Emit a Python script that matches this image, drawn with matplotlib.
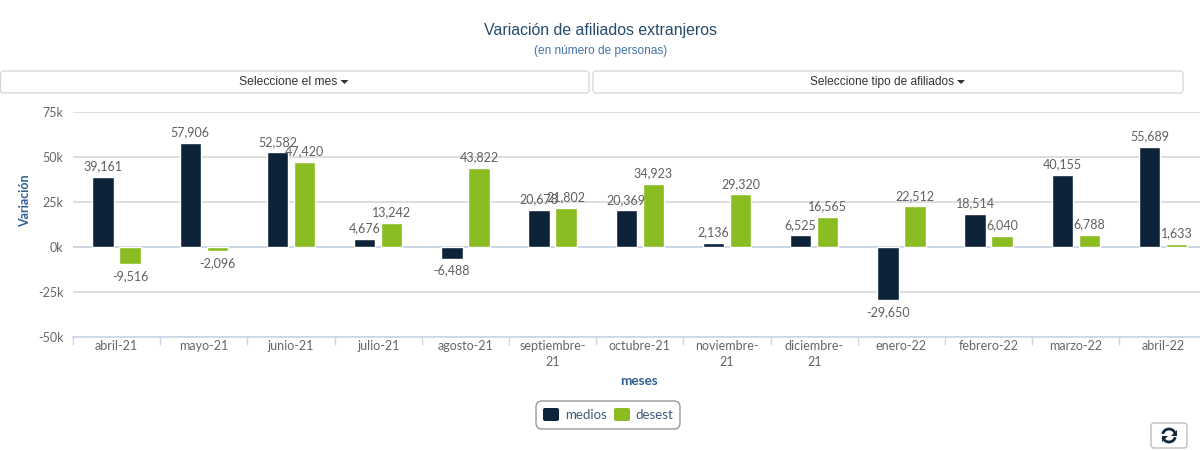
import numpy as np
import matplotlib
matplotlib.use("Agg")
import matplotlib.pyplot as plt
from matplotlib.patches import FancyBboxPatch, Polygon, Arc
from matplotlib.transforms import Affine2D

categories = ["abril-21", "mayo-21", "junio-21", "julio-21", "agosto-21", "septiembre-\n21",
              "octubre-21", "noviembre-\n21", "diciembre-\n21", "enero-22", "febrero-22",
              "marzo-22", "abril-22"]
medios = [39161, 57906, 52582, 4676, -6488, 20678, 20369, 2136, 6525, -29650, 18514, 40155, 55689]
desest = [-9516, -2096, 47420, 13242, 43822, 21802, 34923, 29320, 16565, 22512, 6040, 6788, 1633]
yticks = [-50000, -25000, 0, 25000, 50000, 75000]
ylabels = ["-50k", "-25k", "0k", "25k", "50k", "75k"]

W, H = 1200, 450
NAVY = "#0d233a"
GREEN = "#8bbc21"
LAB = "#666666"
fig = plt.figure(figsize=(12, 4.5), dpi=100, facecolor="white")
ax = fig.add_axes([73 / W, 1 - 337 / H, (W - 73) / W, 225 / H])
step = 87.2
ax.set_xlim(-0.5, -0.5 + (W - 73) / step)
ax.set_ylim(-50000, 75000)
x = np.arange(len(categories))
off, bw = 13.5 / step, 21.5 / step
ax.set_axisbelow(True)
ax.grid(axis="y", color="#d8d8d8", lw=1.2)
ax.axhline(0, color="#c9d6e6", lw=1.2, zorder=1.5)
ax.bar(x - off, medios, bw, color=NAVY, edgecolor="white", lw=1, zorder=3)
ax.bar(x + off, desest, bw, color=GREEN, edgecolor="white", lw=1, zorder=3)

for xs, vals in ((x - off, medios), (x + off, desest)):
    for xi, v in zip(xs, vals):
        ax.annotate(f"{v:,}", (xi, v), xytext=(0, 7.6 if v >= 0 else -8.6), textcoords="offset points",
                    ha="center", va="center", fontsize=9, color="#606060", family="Lato", zorder=5,
                    annotation_clip=False)

for s in ("top", "right", "left"):
    ax.spines[s].set_visible(False)
ax.spines["bottom"].set_color("#c9d6e6")
ax.spines["bottom"].set_linewidth(1.2)
ax.set_xticks(x)
ax.set_xticklabels(categories, family="Lato", fontsize=9, color=LAB, linespacing=1.4)
ax.set_xticks(np.arange(-0.5, 12.5, 1), minor=True)
ax.tick_params(axis="x", which="major", length=0, pad=2)
ax.tick_params(axis="x", which="minor", length=6, color="#c9d6e6", width=1)
ax.set_yticks(yticks)
ax.set_yticklabels(ylabels, family="Lato", fontsize=9, color=LAB)
ax.tick_params(axis="y", length=0, pad=7)

fig.text(25.5 / W, 1 - 201 / H, "Variación", rotation=90, ha="center", va="center",
         family="Lato", fontsize=9, fontweight="bold", color="#2f5f94")
fig.text(639 / W, 1 - 381 / H, "meses", ha="center", va="center",
         family="Lato", fontsize=9.8, fontweight="bold", color="#2f5f94")
fig.text(601 / W, 1 - 30 / H, "Variación de afiliados extranjeros", ha="center", va="center",
         family="Liberation Sans", fontsize=11.4, color="#274b6d")
fig.text(601 / W, 1 - 51 / H, "(en número de personas)", ha="center", va="center",
         family="Liberation Sans", fontsize=8.6, color="#4572a7")


def box(x0, y0, x1, y1, r=3, ec="#d4d4d4", lw=0.9):
    tr = Affine2D().scale(1 / W, 1 / H) + fig.transFigure
    fig.add_artist(FancyBboxPatch((x0, H - y1), x1 - x0, y1 - y0, boxstyle=f"round,pad=0,rounding_size={r}",
                                  transform=tr, fc="white", ec=ec, lw=lw))
    return tr


def caret(cx, cy, tr):
    fig.add_artist(Polygon([(cx - 4, H - cy + 2), (cx + 4, H - cy + 2), (cx, H - cy - 2)], closed=True,
                           transform=tr, fc="#333333", ec="none"))


tr = box(0.5, 71, 589, 93)
fig.text(288.5 / W, 1 - 82 / H, "Seleccione el mes", ha="center", va="center",
         family="Liberation Sans", fontsize=8.7, color="#333333")
caret(344.5, 82, tr)
box(593, 71, 1183, 93)
fig.text(882 / W, 1 - 82 / H, "Seleccione tipo de afiliados", ha="center", va="center",
         family="Liberation Sans", fontsize=8.6, color="#333333")
caret(961, 82, tr)

# legend
box(536, 401, 680, 429, r=6, ec="#999999", lw=1.0)
for sx, col, name, tx in ((543, NAVY, "medios", 565), (614, GREEN, "desest", 635)):
    fig.add_artist(FancyBboxPatch((sx, H - 421), 16, 13, boxstyle="round,pad=0,rounding_size=2",
                                  transform=tr, fc=col, ec="none"))
    fig.text(tx / W, 1 - 415 / H, name, ha="left", va="center", family="Lato", fontsize=9.5, color="#3d5a78")

# refresh button
box(1151, 423, 1187, 448, r=3, ec="#bdbdbd", lw=1.0)
cx, cy = 1169, H - 435.5
ICON = "#14283c"
fig.add_artist(Arc((cx, cy), 13, 13, theta1=20, theta2=165, transform=tr, ec=ICON, lw=2))
fig.add_artist(Arc((cx, cy), 13, 13, theta1=200, theta2=345, transform=tr, ec=ICON, lw=2))
fig.add_artist(Polygon([(cx + 7.5, cy + 6), (cx + 7.5, cy), (cx + 1.5, cy)], transform=tr, fc=ICON, ec="none"))
fig.add_artist(Polygon([(cx - 7.5, cy - 6), (cx - 7.5, cy), (cx - 1.5, cy)], transform=tr, fc=ICON, ec="none"))

fig.savefig("out.png", dpi=100)
